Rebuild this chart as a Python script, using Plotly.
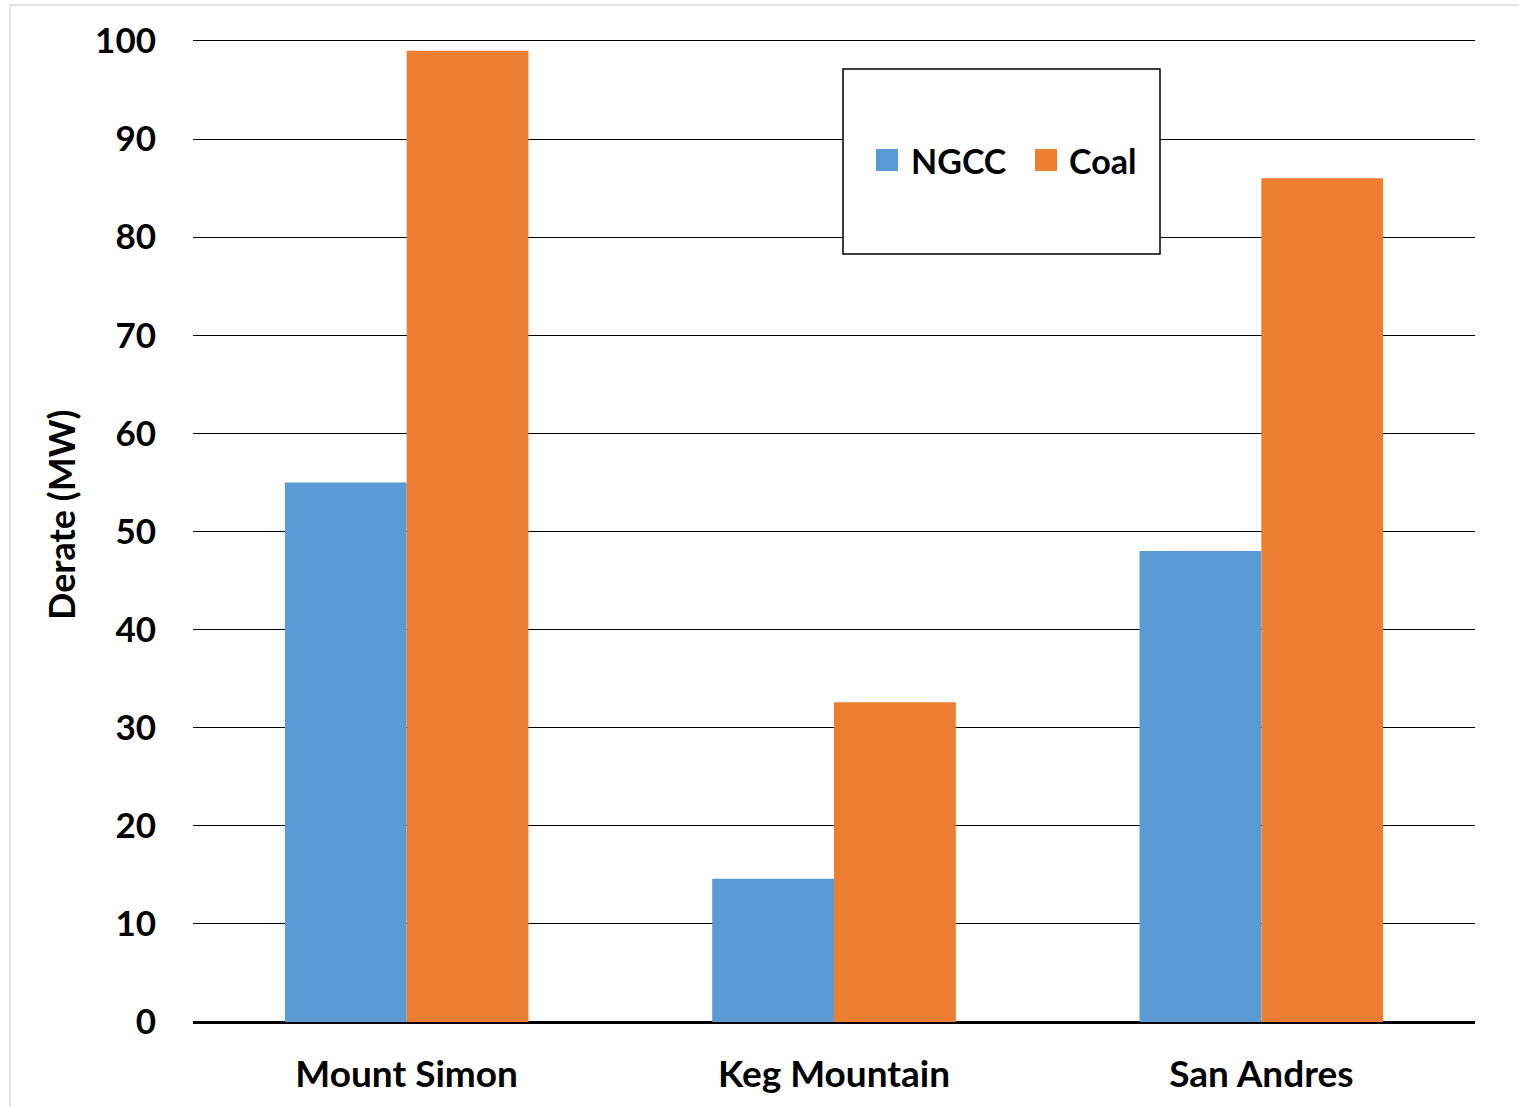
import plotly.graph_objects as go

# Generation derate by storage formation
formations = ["Mount Simon", "Keg Mountain", "San Andres"]
series_names = ["NGCC", "Coal"]
ngcc_derate = [55, 14.6, 48]
coal_derate = [99, 32.6, 86]
series_values = [ngcc_derate, coal_derate]
series_colors = ["#5B9BD5", "#ED7D31"]
y_ticks = [0, 10, 20, 30, 40, 50, 60, 70, 80, 90, 100]
y_title = "Derate (MW)"

FONT = "Lato"

fig = go.Figure()
for name, vals, color in zip(series_names, series_values, series_colors):
    fig.add_trace(go.Bar(
        x=formations, y=vals, name=name,
        marker=dict(color=color, line=dict(width=0)),
        showlegend=False,
    ))

# plot area in pixels: left 193, right 1475, top 39, bottom 1022
W, H = 1519, 1107
L, R, T, B = 193, 44, 39, 85
pw, ph = W - L - R, H - T - B


def px(x):
    return (x - L) / pw


def py(y):
    return 1 - (y - T) / ph


shapes = [
    # light outer frame
    dict(type="rect", xref="paper", yref="paper",
         x0=px(10), x1=px(1530), y0=py(1120), y1=py(5),
         line=dict(color="#D9D9D9", width=1.5), fillcolor="rgba(0,0,0,0)",
         layer="below"),
    # legend box
    dict(type="rect", xref="paper", yref="paper",
         x0=px(843), x1=px(1160), y0=py(254), y1=py(69),
         line=dict(color="black", width=1.5), fillcolor="white",
         layer="above"),
]
annotations = [
    # y-axis title
    dict(xref="paper", yref="paper", x=px(61), y=py(515),
         xanchor="center", yanchor="middle", showarrow=False,
         text=y_title, textangle=-90,
         font=dict(family=FONT, size=36, color="black", weight="bold")),
]
swatch_x = [876, 1035]
text_x = [909, 1067]
yc = 160
for name, color, sx, tx in zip(series_names, series_colors, swatch_x, text_x):
    shapes.append(dict(type="rect", xref="paper", yref="paper",
                       x0=px(sx), x1=px(sx + 22), y0=py(yc + 11), y1=py(yc - 11),
                       line=dict(width=0), fillcolor=color, layer="above"))
    annotations.append(dict(xref="paper", yref="paper", x=px(tx), y=py(yc),
                            xanchor="left", yanchor="middle", showarrow=False,
                            text=name,
                            font=dict(family=FONT, size=34, color="black", weight="bold")))

fig.update_layout(
    width=W, height=H,
    margin=dict(l=L, r=R, t=T, b=B, autoexpand=False),
    paper_bgcolor="white", plot_bgcolor="white",
    barmode="group", bargap=0.43, bargroupgap=0,
    font=dict(family=FONT, color="black", weight="bold"),
    shapes=shapes, annotations=annotations,
    showlegend=False,
)
fig.update_xaxes(
    showgrid=False, showline=False, zeroline=False,
    tickfont=dict(family=FONT, size=37, color="black", weight="bold"),
    ticks="", ticklabelstandoff=27,
)
fig.update_yaxes(
    range=[0, 100.2], tickvals=y_ticks,
    showgrid=True, gridcolor="black", gridwidth=1.3,
    zeroline=True, zerolinecolor="black", zerolinewidth=2.5,
    showline=False, ticks="",
    tickfont=dict(family=FONT, size=35, color="black", weight="bold"),
    ticklabelstandoff=36,
)

fig.write_html("out.html")
